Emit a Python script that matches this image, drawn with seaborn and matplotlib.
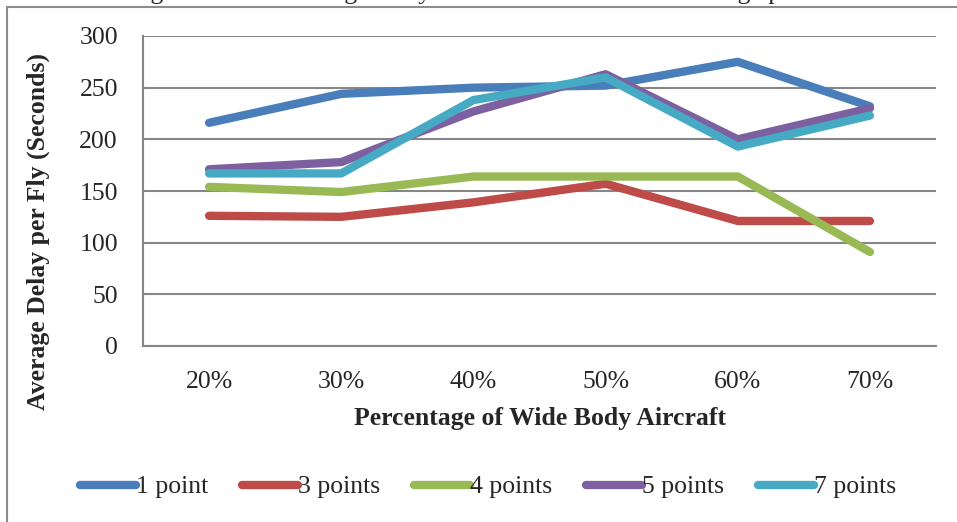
import matplotlib
matplotlib.use("Agg")
import matplotlib.pyplot as plt
import matplotlib.patches as mpatches
import seaborn as sns
import pandas as pd

# values
categories = ["20%", "30%", "40%", "50%", "60%", "70%"]
series_names = ["1 point", "3 points", "4 points", "5 points", "7 points"]
one_point = [216, 244, 250, 252, 275, 232]
three_points = [126, 125, 139, 157, 121, 121]
four_points = [154, 149, 164, 164, 164, 91]
five_points = [171, 178, 227, 263, 200, 230]
seven_points = [167, 167, 238, 260, 193, 223]
colors = ["#4A7EBB", "#BE4B48", "#98B954", "#7D60A0", "#46AAC5"]

rows = []
for name, vals in zip(series_names, [one_point, three_points, four_points, five_points, seven_points]):
    for i, v in enumerate(vals):
        rows.append({"pos": i, "cat": categories[i], "series": name, "delay": v})
df = pd.DataFrame(rows)

sns.set_style("white")
plt.rcParams["font.family"] = ["Liberation Serif", "DejaVu Serif"]
FS = 18.5

fig = plt.figure(figsize=(9.57, 5.22), dpi=100)
ax = fig.add_axes([143/957, 1-346/522, (936-143)/957, (346-36)/522])

sns.lineplot(data=df, x="pos", y="delay", hue="series", palette=colors,
             linewidth=6, solid_capstyle="round", solid_joinstyle="round",
             ax=ax, legend=False)

ax.set_xlim(-0.5, 5.5)
ax.set_ylim(0, 300)
ax.set_yticks(range(0, 301, 50))
ax.set_xticks(range(len(categories)))
ax.set_xticklabels(categories)
ax.set_xticks([x - 0.5 for x in range(len(categories) + 1)], minor=True)
ax.tick_params(axis="x", which="major", length=0, pad=18, labelsize=FS)
ax.tick_params(axis="x", which="minor", length=6, width=1.3, color="#868686", direction="out")
ax.tick_params(axis="y", length=6, width=1.3, color="#868686", direction="out", pad=12, labelsize=FS)
ax.yaxis.grid(True, color="#868686", linewidth=1.5)
ax.set_axisbelow(True)
for s in ["top", "right"]:
    ax.spines[s].set_visible(False)
for s in ["left", "bottom"]:
    ax.spines[s].set_color("#868686")
    ax.spines[s].set_linewidth(1.5)

ax.set_xlabel("Percentage of Wide Body Aircraft", fontsize=FS, fontweight="bold", labelpad=10)
ax.set_ylabel("")
fig.text(38/957, 1-232/522, "Average Delay per Fly (Seconds)", rotation=90,
         fontsize=FS, fontweight="bold", ha="center", va="center")

handles = [plt.Line2D([], [], color=c, linewidth=6, solid_capstyle="round") for c in colors]
fig.legend(handles, series_names, loc="center", bbox_to_anchor=(488/957, 1-487/522),
           ncol=5, frameon=False, fontsize=FS, handlelength=2.2, handletextpad=0.0,
           columnspacing=1.3)

# outer chart frame (only top and left edges visible in the crop)
fig.add_artist(mpatches.Rectangle((7/957, -0.1), 1.2, 1.1 - 7/522, transform=fig.transFigure,
                                  fill=False, edgecolor="#8c8c8c", linewidth=1.5))
# title cut off at the top of the picture
fig.text(480/957, 1+1.5/522, "Figure 13: The average delay with different number of merge points",
         fontsize=FS, ha="center", va="baseline")

fig.savefig("out.png", dpi=100)
